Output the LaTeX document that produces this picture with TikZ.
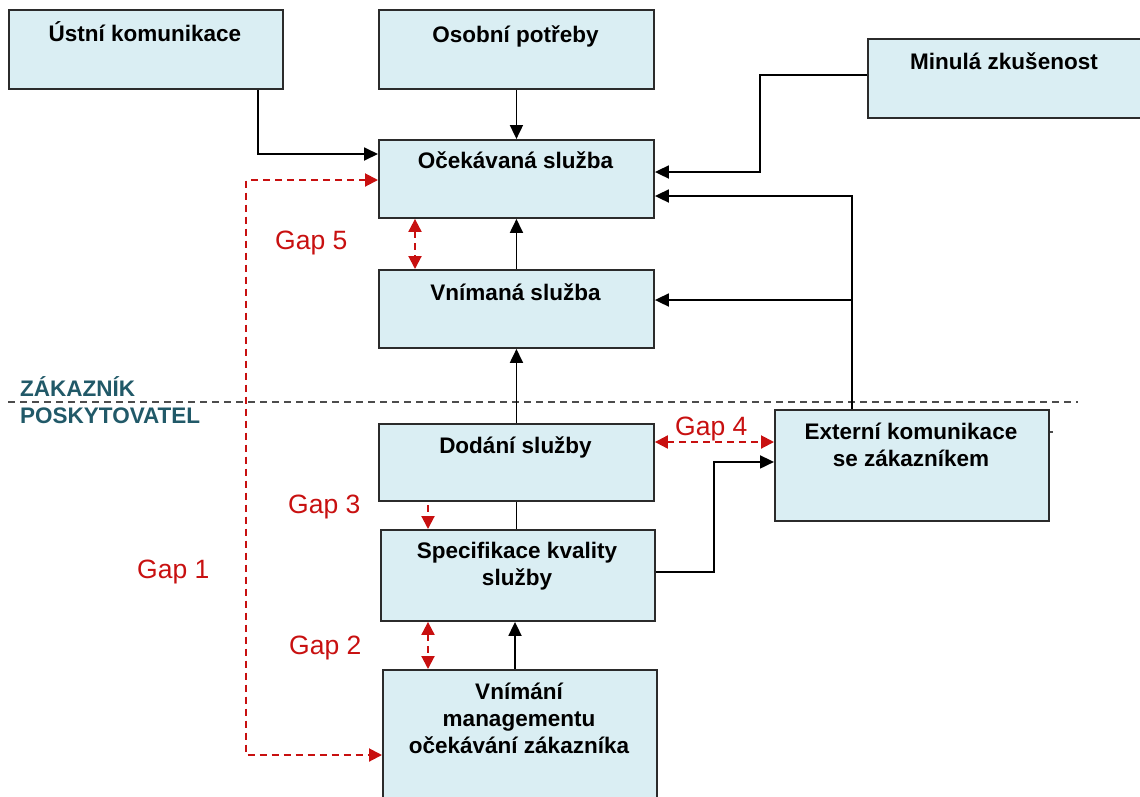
\documentclass[tikz,border=0pt]{standalone}
\usepackage{fontspec}
\setmainfont{Liberation Sans}
\usetikzlibrary{arrows.meta,calc}
\definecolor{boxblue}{HTML}{DAEEF3}
\definecolor{boxline}{HTML}{2B2B2B}
\definecolor{gapred}{HTML}{C81010}
\definecolor{teal}{HTML}{215968}
\tikzset{
  box/.style={draw=boxline, line width=1.9pt, fill=boxblue, rectangle, inner sep=0pt, anchor=north west},
  lbl/.style={font=\fontsize{22.5}{26.7}\selectfont\bfseries, align=center, inner sep=0pt, anchor=base},
  gaplbl/.style={font=\fontsize{26.5}{30}\selectfont, text=gapred, inner sep=0pt, anchor=base west},
  seclbl/.style={font=\fontsize{22.5}{27}\selectfont\bfseries, text=teal, inner sep=0pt, anchor=base west},
  arr/.style={draw=black, line width=1.8pt, -{Triangle[length=14pt,width=13pt]}},
  plain/.style={draw=black, line width=1.8pt},
  redarr/.style={draw=gapred, line width=2pt, dash pattern=on 7pt off 5pt, -{Triangle[length=13pt,width=13pt]}},
  redboth/.style={draw=gapred, line width=2pt, dash pattern=on 7pt off 5pt, {Triangle[length=13pt,width=13pt]}-{Triangle[length=13pt,width=13pt]}},
  sepline/.style={draw=black!70, line width=1.6pt, dash pattern=on 7pt off 5pt}
}
\begin{document}
\begin{tikzpicture}[x=1pt,y=-1pt]
\useasboundingbox (0,0) rectangle (1140,796);

% separator
\draw[sepline] (8,402) -- (1078,402);
\draw[draw=black!70, line width=1.4pt] (1048,432) -- (1053,432);
\node[seclbl] (zak) at (20,396) {ZÁKAZNÍK};
\node[seclbl] (pos) at (20,423) {POSKYTOVATEL};

% boxes
\node[box, minimum width=274pt, minimum height=79pt] (ustni) at (8,9) {};
\node[box, minimum width=275pt, minimum height=79pt] (osobni) at (378,9) {};
\node[box, minimum width=274pt, minimum height=79pt] (minula) at (867,38) {};
\node[box, minimum width=275pt, minimum height=78pt] (ocek) at (378,139) {};
\node[box, minimum width=275pt, minimum height=78pt] (vnim) at (378,269) {};
\node[box, minimum width=275pt, minimum height=77pt] (dodani) at (378,423) {};
\node[box, minimum width=274pt, minimum height=91pt] (spec) at (380,529) {};
\node[box, minimum width=274pt, minimum height=140pt] (mgmt) at (382,669) {};
\node[box, minimum width=274pt, minimum height=111pt] (ext) at (774,409) {};

% labels (base anchor = baseline of the last line)
\node[lbl] (tustni) at (145,41) {Ústní komunikace};
\node[lbl] (tosobni) at (515.5,42) {Osobní potřeby};
\node[lbl] (tminula) at (1004,69) {Minulá zkušenost};
\node[lbl] (tocek) at (515.5,168) {Očekávaná služba};
\node[lbl] (tvnim) at (515.5,300) {Vnímaná služba};
\node[lbl] (tdodani) at (515.5,453) {Dodání služby};
\node[lbl] (tspec) at (517,585) {Specifikace kvality\\služby};
\node[lbl] (tmgmt) at (519,753) {Vnímání\\managementu\\očekávání zákazníka};
\node[lbl] (text) at (911,466) {Externí komunikace\\se zákazníkem};

% gap labels
\node[gaplbl] (gap5) at (275,249) {Gap 5};
\node[gaplbl] (gap4) at (675,435) {Gap 4};
\node[gaplbl] (gap3) at (288,513) {Gap 3};
\node[gaplbl] (gap1) at (137,578) {Gap 1};
\node[gaplbl] (gap2) at (289,654) {Gap 2};

% helper coordinates
\coordinate (mj) at (760,75);
\coordinate (ej) at (852,196);
\coordinate (ev) at (852,300);
\coordinate (sx) at (714,572);
\coordinate (ux) at (258,154);
\coordinate (g1a) at (246,180);
\coordinate (g1b) at (246,755);
\coordinate (g4) at (700,442);
\coordinate (g3) at (428,505);
\coordinate (g5) at (415,0);
\coordinate (g2) at (428,0);
\coordinate (mx) at (515,0);

% black connectors
\draw[arr] (ustni.south -| ux) -- (ux) -- (ocek.west |- ux);
\draw[arr] (osobni.south) -- (ocek.north);
\draw[arr] (minula.west |- mj) -- (mj) |- ([yshift=-33pt]ocek.north east);
\draw[arr] (ext.north -| ej) -- (ej) -- (ocek.east |- ej);
\draw[arr] (ev) -- (vnim.east |- ev);
\draw[arr] (vnim.north) -- (ocek.south);
\draw[arr] (dodani.north) -- (vnim.south);
\draw[plain] (dodani.south) -- (dodani.south |- spec.north);
\draw[arr] (mgmt.north -| mx) -- (spec.south -| mx);
\draw[arr] (spec.east |- sx) -- (sx) |- ([yshift=3.5pt]ext.west);

% red gaps
\draw[redboth] (ocek.west |- g1a) -- (g1a) -- (g1b) -- (mgmt.west |- g1b);
\draw[redboth] (ocek.south -| g5) -- (vnim.north -| g5);
\draw[redboth] (dodani.east |- g4) -- (ext.west |- g4);
\draw[redarr] (g3) -- (spec.north -| g3);
\draw[redboth] (spec.south -| g2) -- (mgmt.north -| g2);
\end{tikzpicture}
\end{document}
